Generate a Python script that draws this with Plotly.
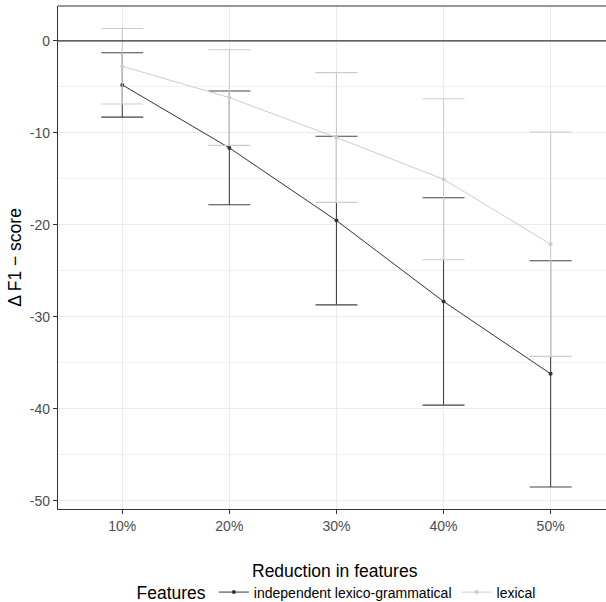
import plotly.graph_objects as go

categories = ["10%", "20%", "30%", "40%", "50%"]
series_names = ["independent lexico-grammatical", "lexical"]
lexgram_mean = [-4.78, -11.63, -19.53, -28.33, -36.2]
lexgram_err = [3.5, 6.18, 9.17, 11.27, 12.3]
lexical_mean = [-2.75, -6.16, -10.5, -15.04, -22.1]
lexical_err = [4.1, 5.2, 7.05, 8.75, 12.2]
y_major = [0, -10, -20, -30, -40, -50]
y_major_text = ["0", "-10", "-20", "-30", "-40", "-50"]
y_minor = [-5, -15, -25, -35, -45]
x_title = "Reduction in features"
y_title = "Δ F1 − score"

FONT = "Liberation Sans, Arial, sans-serif"

fig = go.Figure()
fig.add_trace(go.Scatter(
    x=categories, y=lexgram_mean, name=series_names[0], mode="lines+markers",
    line=dict(color="#333333", width=1),
    marker=dict(color="#333333", size=4),
    error_y=dict(type="data", array=lexgram_err, visible=True,
                 color="#444444", thickness=1.1, width=21),
))
fig.add_trace(go.Scatter(
    x=categories, y=lexical_mean, name=series_names[1], mode="lines+markers",
    line=dict(color="#cccccc", width=1),
    marker=dict(color="#cccccc", size=4),
    error_y=dict(type="data", array=lexical_err, visible=True,
                 color="#cccccc", thickness=1.1, width=21),
))

fig.add_hline(y=0, line=dict(color="#333333", width=1.2))
fig.add_shape(type="line", xref="paper", yref="paper", x0=0, x1=1, y0=1, y1=1,
              line=dict(color="#333333", width=1.2))

fig.add_annotation(text=x_title, xref="paper", yref="paper", x=0.506, y=-0.1233,
                   xanchor="center", yanchor="middle", showarrow=False,
                   font=dict(size=17.5, color="#000000"))

fig.update_layout(
    width=606, height=602,
    margin=dict(l=58, r=0, t=6, b=93, autoexpand=False),
    paper_bgcolor="white", plot_bgcolor="white",
    font=dict(family=FONT, size=14, color="#000000"),
    showlegend=True,
    legend=dict(
        orientation="h", xref="container", yref="container",
        x=0.557, xanchor="center", y=0.015, yanchor="middle",
        title=dict(text="Features", font=dict(size=17.5, color="#000000"), side="left"),
        font=dict(size=14, color="#000000"),
        itemwidth=30, bgcolor="rgba(0,0,0,0)",
    ),
    xaxis=dict(
        type="category", categoryorder="array", categoryarray=categories,
        range=[-0.6, 4.517], autorange=False, automargin=False,
        showline=True, linecolor="#333333", linewidth=1.2,
        ticks="outside", ticklen=4, tickcolor="#333333", tickwidth=1.1,
        tickfont=dict(size=14, color="#4d4d4d"),
        showgrid=True, gridcolor="#ebebeb", gridwidth=1.1,
        zeroline=False,
    ),
    yaxis=dict(
        range=[-50.9, 3.8], autorange=False, automargin=False,
        tickmode="array", tickvals=y_major, ticktext=y_major_text,
        showline=True, linecolor="#333333", linewidth=1.2,
        ticks="outside", ticklen=4, tickcolor="#333333", tickwidth=1.1,
        tickfont=dict(size=14, color="#4d4d4d"),
        showgrid=True, gridcolor="#ebebeb", gridwidth=1.1,
        minor=dict(tickmode="array", tickvals=y_minor, showgrid=True,
                   gridcolor="#f0f0f0", gridwidth=1, ticks=""),
        zeroline=False,
        title=dict(text=y_title, font=dict(size=17.5, color="#000000"), standoff=3),
    ),
)

fig.write_html("out.html", config={"displayModeBar": False},
               post_script="document.body.style.margin='0';document.body.style.overflow='hidden';")
